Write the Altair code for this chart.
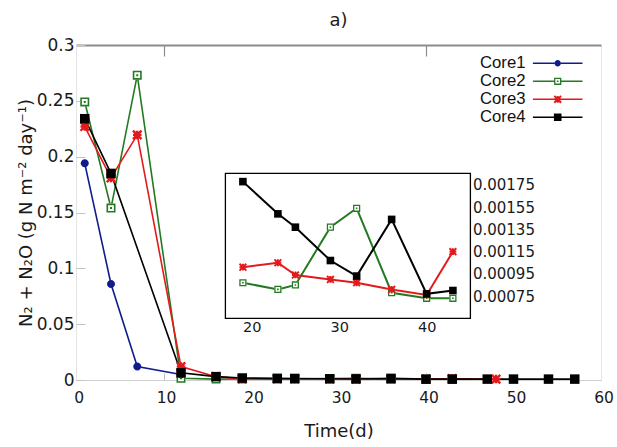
import altair as alt
import pandas as pd

# ---------------- data ----------------
cores = ["Core1", "Core2", "Core3", "Core4"]
core1_t = [1, 4, 7, 12]
core1_y = [0.194, 0.086, 0.012, 0.005]
core2_t = [1, 4, 7, 12, 16, 19, 23, 25, 29, 32, 36, 40, 43]
core2_y = [0.249, 0.154, 0.273, 0.0015, 0.0008, 0.00087, 0.00081, 0.00085,
           0.00137, 0.00154, 0.00078, 0.00073, 0.00073]
core3_t = [1, 4, 7, 12, 16, 19, 23, 25, 29, 32, 36, 40, 43, 48]
core3_y = [0.227, 0.181, 0.2195, 0.012, 0.003, 0.00101, 0.00105, 0.00094,
           0.0009, 0.00087, 0.00081, 0.00076, 0.00115, 0.0008]
core4_t = [1, 4, 12, 16, 19, 23, 25, 29, 32, 36, 40, 43, 47, 50, 54, 57]
core4_y = [0.234, 0.185, 0.0065, 0.003, 0.00178, 0.00149, 0.00137, 0.00107,
           0.00093, 0.00144, 0.00077, 0.0008, 0.0008, 0.0008, 0.0008, 0.0008]

x_domain = [0, 60]
y_domain = [0, 0.3]
x_ticks = [0, 10, 20, 30, 40, 50, 60]
y_ticks = [0, 0.05, 0.1, 0.15, 0.2, 0.25, 0.3]
minor_x_ticks = [10, 40]

inset_x_domain = [17, 45]
inset_y_domain = [0.00055, 0.001855]
inset_x_ticks = [20, 30, 40]
inset_y_ticks = [0.00075, 0.00095, 0.00115, 0.00135, 0.00155, 0.00175]
inset_window = [19, 43]

# ---------------- style ----------------
colors = ["#101c8c", "#237a23", "#e31a1c", "#000000"]
FONT = "DejaVu Sans"
LEG_FONT = "Liberation Sans"
W, H = 525, 335
PAD = {"left": 76, "top": 45, "right": 16, "bottom": 67}
INSET_X_RANGE = [149.4, 394.4]
INSET_Y_RANGE = [273.3, 128.3]


def r3(v):
    return f"{v:.3f}"


def square(h, ccw=False):
    h = r3(h)
    m = "-" + h
    if ccw:
        return f"M{m},{m}V{h}H{h}V{m}Z"
    return f"M{m},{m}H{h}V{h}H{m}Z"


def circle(r):
    r = r3(r)
    return f"M{r},0A{r},{r} 0 1,1 -{r},0A{r},{r} 0 1,1 {r},0Z"


def bar(x0, x1, t):
    return f"M{r3(x0)},{r3(-t)}H{r3(x1)}V{r3(t)}H{r3(x0)}Z"


def star(a, t):
    d = t / 2 ** 0.5
    hbar = bar(-a, a, t)
    vbar = f"M{r3(-t)},{r3(-a)}H{r3(t)}V{r3(a)}H{r3(-t)}Z"
    d1 = (f"M{r3(-a + d)},{r3(-a - d)}L{r3(a + d)},{r3(a - d)}"
          f"L{r3(a - d)},{r3(a + d)}L{r3(-a - d)},{r3(-a + d)}Z")
    d2 = (f"M{r3(a + d)},{r3(-a + d)}L{r3(-a + d)},{r3(a + d)}"
          f"L{r3(-a - d)},{r3(a - d)}L{r3(a - d)},{r3(-a - d)}Z")
    return hbar + vbar + d1 + d2


marker = {
    "Core1": circle(0.8),
    "Core2": square(0.9) + square(0.58, ccw=True) + square(0.2),
    "Core3": star(0.85, 0.24),
    "Core4": square(0.95),
}
half = {"Core1": 0.8, "Core2": 0.9, "Core3": 0.85, "Core4": 0.95}
legend_path = {c: marker[c] + bar(-6.2, -half[c], 0.2) + bar(half[c], 6.2, 0.2)
               for c in cores}
backing_path = square(0.9)
color_of = dict(zip(cores, colors))

# ---------------- table ----------------
rows = []
for name, ts, vs in zip(cores, [core1_t, core2_t, core3_t, core4_t],
                        [core1_y, core2_y, core3_y, core4_y]):
    for t, v in zip(ts, vs):
        rows.append({"core": name, "t": t, "y": v,
                     "col": color_of[name], "marker": marker[name]})
df = pd.DataFrame(rows)
frame_df = pd.DataFrame({"x0": [inset_x_domain[0]], "x1": [inset_x_domain[1]],
                         "y0": [inset_y_domain[0]], "y1": [inset_y_domain[1]]})

legend_shape_expr = ""
for c in cores[:-1]:
    legend_shape_expr += f"datum.value === '{c}' ? '{legend_path[c]}' : "
legend_shape_expr += f"'{legend_path[cores[-1]]}'"

legend = alt.Legend(
    title=None, orient="none", legendX=380, legendY=9.95, direction="vertical",
    labelFont=LEG_FONT, labelFontSize=16.7, labelColor="#111111",
    labelOffset=alt.ExprRef("-86.05"), symbolOffset=93.35,
    symbolType=alt.ExprRef(legend_shape_expr),
    symbolSize=64, symbolStrokeWidth=0, symbolOpacity=1, rowPadding=0, padding=0,
)

color_scale = alt.Scale(domain=cores, range=colors)
line_color = alt.Color("col:N", scale=None)
point_shape = alt.Shape("marker:N", scale=None)

# ---------------- main plot ----------------
xs = alt.Scale(domain=x_domain, nice=False, zero=False)
ys = alt.Scale(domain=y_domain, nice=False, zero=False)

ax_x_labels = alt.Axis(orient="bottom", values=x_ticks, ticks=False, domainColor="#cfcfcf",
                       domainWidth=1.2, labelFontSize=15.5, labelPadding=10.5, labelOffset=2.6,
                       labelFlush=False, labelOverlap=False, title="Time(d)", titleX=262.5,
                       titleY=51, titleFontSize=18, titleFontWeight="normal",
                       titleBaseline="middle", titleAlign="center")
ax_y_labels = alt.Axis(orient="left", values=y_ticks, format="~g", ticks=False,
                       domainColor="#e3e3e3", labelFontSize=17, labelPadding=2,
                       labelOverlap=False, title="N₂ + N₂O (g N m⁻² day⁻¹)", titleX=-50,
                       titleY=H / 2, titleAngle=270, titleAlign="center",
                       titleBaseline="middle", titleFontSize=18, titleFontWeight="normal")
ax_x_top = alt.Axis(orient="bottom", offset=-H, values=minor_x_ticks, labels=False,
                    tickSize=11, tickColor="#8c8c8c", tickWidth=1.2, domainColor="#8c8c8c",
                    domainWidth=2, title=None)
ax_x_bottom_ticks = alt.Axis(orient="top", offset=-H, values=minor_x_ticks, labels=False,
                             tickSize=7, tickColor="#bdbdbd", domain=False, title=None)
ax_y_ticks = alt.Axis(orient="right", offset=-W, values=y_ticks, labels=False, tickSize=9,
                      tickColor="#c4c4c4", domain=False, title=None)

lines = alt.Chart(df).mark_line(strokeWidth=1.6).encode(
    x=alt.X("t:Q", scale=xs, axis=ax_x_labels),
    y=alt.Y("y:Q", scale=ys, axis=ax_y_labels),
    color=line_color,
    detail="core:N",
)
backing = alt.Chart(df).transform_filter(alt.datum.core == "Core2").mark_point(
    shape=backing_path, filled=True, fill="white", size=100, opacity=1, strokeWidth=0
).encode(
    x=alt.X("t:Q", scale=xs, axis=ax_x_top),
    y=alt.Y("y:Q", scale=ys, axis=ax_y_ticks),
)
points = alt.Chart(df).mark_point(filled=True, size=100, opacity=1, strokeWidth=0).encode(
    x=alt.X("t:Q", scale=xs, axis=ax_x_bottom_ticks),
    y=alt.Y("y:Q", scale=ys, axis=None),
    color=alt.Color("core:N", scale=color_scale, legend=legend),
    shape=point_shape,
)
main = alt.layer(lines, backing, points).resolve_axis(x="independent", y="independent")

# ---------------- inset ----------------
xi = alt.Scale(domain=inset_x_domain, range=INSET_X_RANGE, nice=False, zero=False)
yi = alt.Scale(domain=inset_y_domain, range=INSET_Y_RANGE, nice=False, zero=False)

ax_ix_labels = alt.Axis(orient="bottom", offset=-(H - INSET_Y_RANGE[0]), values=inset_x_ticks,
                        ticks=False, domain=False, labelFontSize=14.5, labelPadding=1.8,
                        labelFlush=False, title=None)
ax_iy_labels = alt.Axis(orient="right", offset=-(W - INSET_X_RANGE[1]), values=inset_y_ticks,
                        format=".5f", ticks=False, domain=False, labelFontSize=15,
                        labelPadding=2, labelOverlap=False, title=None)
ax_ix_ticks = alt.Axis(orient="top", offset=-INSET_Y_RANGE[0], values=inset_x_ticks,
                       labels=False, domain=False, tickSize=6, tickColor="#000000", title=None)
ax_iy_ticks = alt.Axis(orient="left", offset=-INSET_X_RANGE[1], values=inset_y_ticks,
                       labels=False, domain=False, tickSize=5, tickColor="#000000", title=None)

in_window = alt.FieldRangePredicate(field="t", range=inset_window)

frame = alt.Chart(frame_df).mark_rect(fill="white", stroke="black", strokeWidth=1.3).encode(
    x=alt.X("x0:Q", scale=xi, axis=ax_ix_labels), x2="x1",
    y=alt.Y("y0:Q", scale=yi, axis=ax_iy_labels), y2="y1",
)
inset_lines = alt.Chart(df).transform_filter(in_window).mark_line(strokeWidth=2).encode(
    x=alt.X("t:Q", scale=xi, axis=ax_ix_ticks),
    y=alt.Y("y:Q", scale=yi, axis=ax_iy_ticks),
    color=line_color,
    detail="core:N",
)
inset_backing = alt.Chart(df).transform_filter(in_window).transform_filter(
    alt.datum.core == "Core2").mark_point(
    shape=backing_path, filled=True, fill="white", size=64, opacity=1, strokeWidth=0
).encode(
    x=alt.X("t:Q", scale=xi, axis=None),
    y=alt.Y("y:Q", scale=yi, axis=None),
)
inset_points = alt.Chart(df).transform_filter(in_window).mark_point(
    filled=True, size=64, opacity=1, strokeWidth=0
).encode(
    x=alt.X("t:Q", scale=xi, axis=None),
    y=alt.Y("y:Q", scale=yi, axis=None),
    color=line_color,
    shape=point_shape,
)
inset = alt.layer(frame, inset_lines, inset_backing, inset_points).resolve_axis(
    x="independent", y="independent")

chart = alt.layer(main, inset).resolve_scale(x="independent", y="independent").properties(
    width=W, height=H,
    title=alt.Title("a)", fontSize=18, font=FONT, fontWeight="normal", anchor="middle",
                    offset=6, color="#1a1a1a"),
    padding=PAD,
    autosize=alt.AutoSizeParams(type="none"),
).configure_view(stroke="#e6e6e6", strokeWidth=1).configure_axis(
    labelFont=FONT, titleFont=FONT, grid=False, labelColor="#1a1a1a", titleColor="#1a1a1a"
)

chart.save("out.html", embed_options={"renderer": "svg", "actions": False})
